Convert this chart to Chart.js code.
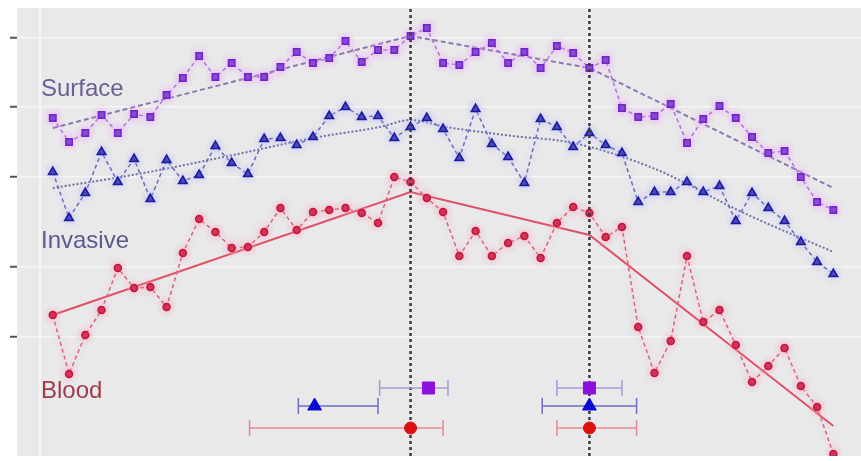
<!DOCTYPE html>
<html>
<head>
<meta charset="utf-8">
<script src="https://cdn.jsdelivr.net/npm/chart.js@4.4.1/dist/chart.umd.min.js"></script>
<style>
  html, body { margin: 0; padding: 0; background: #fff; }
  #wrap { width: 861px; height: 461px; }
</style>
</head>
<body>
<div id="wrap"><canvas id="myChart" width="861" height="461"></canvas></div>
<script>
// values per time point (49 each)
const surface = [33.8, 31.4, 32.3, 34.1, 32.3, 34.2, 33.9, 36.1, 37.8, 40.0, 37.9, 39.3, 37.9, 37.9, 38.9, 40.4, 39.3,
  39.8, 41.5, 39.4, 40.6, 40.6, 42.0, 42.8, 39.3, 39.1, 40.4, 41.3, 39.3, 40.4, 38.8, 41.0, 40.3, 38.8, 39.6, 34.8,
  33.9, 34.0, 35.2, 31.3, 33.7, 35.0, 33.8, 31.9, 30.3, 30.5, 27.9, 25.4, 24.6];
const invasive = [28.4, 23.8, 26.3, 30.4, 27.4, 29.7, 25.7, 29.6, 27.5, 28.1, 31.0, 29.3, 28.2, 31.7, 31.8, 31.1, 31.9,
  34.0, 34.9, 33.9, 34.0, 31.8, 32.9, 33.8, 32.7, 29.8, 34.7, 31.2, 29.9, 27.3, 33.7, 32.9, 30.9, 32.3, 31.1, 30.3,
  25.4, 26.4, 26.4, 27.4, 26.4, 27.0, 23.5, 26.3, 24.8, 23.5, 21.4, 19.4, 18.2];
const blood = [14.1, 8.2, 12.1, 14.6, 18.8, 16.8, 16.9, 14.9, 20.3, 23.7, 22.4, 20.8, 20.9, 22.4, 24.8, 22.6, 24.4,
  24.6, 24.8, 24.3, 23.3, 27.9, 27.4, 25.8, 24.4, 20.0, 22.5, 20.0, 21.3, 22.0, 19.8, 23.3, 24.9, 24.3, 21.9, 22.9,
  12.9, 8.3, 11.5, 20.0, 13.4, 14.6, 11.1, 7.4, 9.0, 10.8, 7.0, 4.9, 0.2];

// fitted trends
const surfaceTrendX = [0, 22, 33, 48];
const surfaceTrendY = [32.8, 42.0, 38.8, 26.8];
const invasiveTrendX = [0, 4.9, 11.1, 16, 20.1, 22, 24.2, 28.3, 32, 36.9, 42.5, 48];
const invasiveTrendY = [26.8, 28.1, 30.1, 31.8, 32.9, 33.6, 32.9, 32.0, 31.3, 28.8, 24.3, 20.4];
const bloodTrendX = [0, 22, 33, 48];
const bloodTrendY = [14.1, 26.4, 22.1, 3.0];

// change points
const breakpoints = [22, 33];

// change point estimates: [low, estimate, high]
const surfaceBreaks = [[20.1, 23.1, 24.3], [31.0, 33.0, 35.0]];
const invasiveBreaks = [[15.1, 16.1, 20.0], [30.1, 33.0, 35.9]];
const bloodBreaks = [[12.1, 22.0, 24.0], [31.0, 33.0, 35.9]];

const yTicks = [41.8, 34.9, 27.9, 18.9, 11.9];

function pts(xs, ys) {
  return ys.map((y, i) => ({ x: xs ? xs[i] : i, y: y }));
}

function errorBars(breaks, row, color, style, radius, fill) {
  const sets = breaks.map(b => ({
    data: [{ x: b[0], y: row }, { x: b[2], y: row }],
    borderColor: color,
    borderWidth: 1.5,
    pointStyle: "line",
    rotation: 90,
    pointRadius: 8,
    pointBorderColor: color,
    pointBorderWidth: 1.5,
  }));
  sets.unshift({
    data: breaks.map(b => ({ x: b[1], y: row })),
    showLine: false,
    pointStyle: style,
    pointRadius: radius,
    pointBackgroundColor: fill,
    pointBorderColor: fill,
    pointBorderWidth: 1,
  });
  return sets;
}

const datasets = [];
datasets.push(...errorBars(surfaceBreaks, 6.8, "#a69ad6", "rect", 8.5, "#8a10dc"));
datasets.push(...errorBars(invasiveBreaks, 5.0, "#6c6cc4", "triangle", 8, "#0a0ad8"));
datasets.push(...errorBars(bloodBreaks, 2.8, "#e88894", "circle", 6, "#dc1010"));

// vertical dashed lines at the change points
breakpoints.forEach(b => {
  datasets.push({
    data: [{ x: b, y: 0 }, { x: b, y: 44.8 }],
    borderColor: "#3a3a3a",
    borderWidth: 2.5,
    borderDash: [3, 3],
    pointRadius: 0,
  });
});

// observed series
datasets.push({
  data: pts(null, surface),
  borderColor: "#b070e0",
  borderWidth: 1.5,
  borderDash: [4, 3],
  pointStyle: "rect",
  pointRadius: 4.5,
  pointBackgroundColor: "#6a28c8",
  pointBorderColor: "#6a28c8",
  glow: "rgba(240,160,255,0.95)",
});
datasets.push({
  data: pts(null, invasive),
  borderColor: "#6a6ab4",
  borderWidth: 1.5,
  borderDash: [4, 3],
  pointStyle: "triangle",
  pointRadius: 5,
  pointBackgroundColor: "#1c1ca0",
  pointBorderColor: "#1c1ca0",
  glow: "rgba(190,190,255,0.95)",
});
datasets.push({
  data: pts(null, blood),
  borderColor: "#d86478",
  borderWidth: 1.5,
  borderDash: [4, 3],
  pointStyle: "circle",
  pointRadius: 3.5,
  pointBackgroundColor: "#c4153c",
  pointBorderColor: "#c4153c",
  glow: "rgba(255,165,190,0.95)",
});

// trends
datasets.push({
  data: pts(surfaceTrendX, surfaceTrendY),
  borderColor: "#8a78b0",
  borderWidth: 2,
  borderDash: [5, 3],
  pointRadius: 0,
});
datasets.push({
  data: pts(invasiveTrendX, invasiveTrendY),
  borderColor: "#6a70a8",
  borderWidth: 2,
  borderDash: [2, 2],
  cubicInterpolationMode: "monotone",
  pointRadius: 0,
});
datasets.push({
  data: pts(bloodTrendX, bloodTrendY),
  borderColor: "#e05066",
  borderWidth: 2,
  pointRadius: 0,
});

const panelBg = {
  id: "panelBg",
  beforeDraw(chart) {
    const a = chart.chartArea;
    const ctx = chart.ctx;
    ctx.save();
    ctx.fillStyle = "#e9e9ea";
    ctx.fillRect(a.left, a.top, a.right - a.left, a.bottom - a.top);
    ctx.restore();
  },
};

const glow = {
  id: "glow",
  beforeDatasetDraw(chart, args) {
    const ds = chart.data.datasets[args.index];
    if (ds.glow) {
      chart.ctx.save();
      chart.ctx.shadowColor = ds.glow;
      chart.ctx.shadowBlur = 7;
    }
  },
  afterDatasetDraw(chart, args) {
    if (chart.data.datasets[args.index].glow) chart.ctx.restore();
  },
};

const seriesLabels = {
  id: "seriesLabels",
  afterDraw(chart) {
    const ctx = chart.ctx;
    ctx.save();
    ctx.font = "24px 'Liberation Sans', Arial, sans-serif";
    ctx.textBaseline = "alphabetic";
    ctx.fillStyle = "#6c5e94";
    ctx.fillText("Surface", 41, 96);
    ctx.fillStyle = "#595990";
    ctx.fillText("Invasive", 41, 248);
    ctx.fillStyle = "#a03c4c";
    ctx.fillText("Blood", 41, 398);
    ctx.restore();
  },
};

const config = {
  type: "line",
  data: { datasets: datasets },
  options: {
    responsive: false,
    animation: false,
    layout: { autoPadding: false, padding: { top: 8, bottom: 5, left: 0, right: 0 } },
    scales: {
      x: {
        type: "linear",
        min: -2.2,
        max: 49.7,
        afterFit: s => { s.height = 0; },
        afterBuildTicks: s => { s.ticks = [{ value: -0.8 }]; },
        ticks: { display: false },
        grid: { color: "#f6f6f6", lineWidth: 2, drawTicks: false },
        border: { display: false },
      },
      y: {
        min: 0,
        max: 44.8,
        afterFit: s => { s.width = 17; },
        afterBuildTicks: s => { s.ticks = yTicks.map(v => ({ value: v })); },
        ticks: { display: false },
        grid: { color: "#f6f6f6", lineWidth: 1.5, tickColor: "#555", tickLength: 7, tickWidth: 2 },
        border: { display: false },
      },
    },
    plugins: {
      legend: { display: false },
      tooltip: { enabled: false },
    },
  },
  plugins: [panelBg, glow, seriesLabels],
};

const myChart = new Chart(document.getElementById("myChart"), config);
</script>
</body>
</html>
